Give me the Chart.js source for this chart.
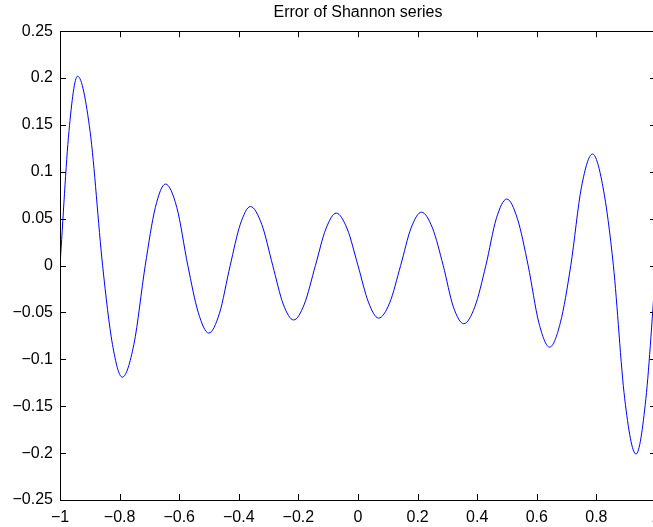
<!DOCTYPE html>
<html>
<head>
<meta charset="utf-8">
<script src="https://cdn.jsdelivr.net/npm/chart.js@4.4.1/dist/chart.umd.min.js"></script>
<style>
  html, body { margin: 0; padding: 0; overflow: hidden; background: #fff; }
  canvas { display: block; }
</style>
</head>
<body>
<canvas id="errChart" width="660" height="527"></canvas>
<script>
// sample positions and error values
const xVals = [
  -1, -0.97, -0.941, -0.899, -0.857, -0.824, -0.791, -0.752, -0.714, -0.68, -0.646, -0.608,
  -0.571, -0.536, -0.501, -0.465, -0.429, -0.395, -0.361, -0.323, -0.286, -0.251, -0.216, -0.18,
  -0.143, -0.108, -0.073, -0.036, 0, 0.035, 0.069, 0.106, 0.143, 0.178, 0.213, 0.25,
  0.286, 0.32, 0.355, 0.392, 0.429, 0.464, 0.499, 0.535, 0.571, 0.607, 0.643, 0.679,
  0.714, 0.75, 0.787, 0.822, 0.857, 0.895, 0.933, 0.966, 1
];
const errVals = [
  0, 0.143, 0.202, 0.143, 0, -0.084, -0.119, -0.084, 0, 0.062, 0.087, 0.062,
  0, -0.05, -0.072, -0.051, 0, 0.044, 0.063, 0.044, 0, -0.041, -0.058, -0.041,
  0, 0.039, 0.056, 0.039, 0, -0.039, -0.056, -0.04, 0, 0.04, 0.057, 0.04,
  0, -0.044, -0.062, -0.044, 0, 0.05, 0.071, 0.05, 0, -0.061, -0.087, -0.061,
  0, 0.084, 0.119, 0.084, 0, -0.142, -0.201, -0.142, 0
];
const xTicks = [-1, -0.8, -0.6, -0.4, -0.2, 0, 0.2, 0.4, 0.6, 0.8, 1];
const yTicks = [-0.25, -0.2, -0.15, -0.1, -0.05, 0, 0.05, 0.1, 0.15, 0.2, 0.25];

const FONT = "'Liberation Sans', Arial, Helvetica, sans-serif";

function fmt(v) {
  return String(Math.round(v * 100) / 100).replace("-", "\u2212");
}

// matlab style box with inward ticks on all four sides
const boxTicks = {
  id: "boxTicks",
  afterDatasetsDraw(chart) {
    const { ctx, chartArea: a, scales } = chart;
    const t = 6;
    ctx.save();
    ctx.strokeStyle = "#000";
    ctx.lineWidth = 1;
    ctx.beginPath();
    xTicks.forEach(v => {
      const px = Math.round(scales.x.getPixelForValue(v)) + 0.5;
      ctx.moveTo(px, a.bottom); ctx.lineTo(px, a.bottom - t);
      ctx.moveTo(px, a.top); ctx.lineTo(px, a.top + t);
    });
    yTicks.forEach(v => {
      const py = Math.round(scales.y.getPixelForValue(v)) + 0.5;
      ctx.moveTo(a.left, py); ctx.lineTo(a.left + t, py);
      ctx.moveTo(a.right, py); ctx.lineTo(a.right - t, py);
    });
    ctx.stroke();
    ctx.strokeRect(Math.round(a.left) + 0.5, Math.round(a.top) + 0.5,
      Math.round(a.right - a.left), Math.round(a.bottom - a.top));
    ctx.restore();
  }
};

new Chart(document.getElementById("errChart"), {
  type: "line",
  data: {
    datasets: [{
      data: xVals.map((x, i) => ({ x: x, y: errVals[i] })),
      borderColor: "#0000ff",
      borderWidth: 1,
      pointRadius: 0,
      fill: false,
      cubicInterpolationMode: "monotone"
    }]
  },
  options: {
    responsive: false,
    animation: false,
    devicePixelRatio: 1,
    layout: { padding: { right: 4 } },
    plugins: {
      legend: { display: false },
      tooltip: { enabled: false },
      title: {
        display: true,
        fullSize: false,
        text: "Error of Shannon series",
        color: "#000",
        font: { family: FONT, size: 16, weight: "normal" },
        padding: { top: 3, bottom: 9 }
      }
    },
    scales: {
      x: {
        type: "linear",
        min: -1, max: 1,
        afterBuildTicks: s => { s.ticks = xTicks.map(v => ({ value: v })); },
        afterFit: s => { s.height = 27; s.paddingLeft = 0; s.paddingRight = 0; },
        grid: { display: false, drawTicks: false },
        border: { display: false },
        ticks: {
          autoSkip: false, maxRotation: 0, padding: 8, color: "#000",
          font: { family: FONT, size: 16 },
          callback: v => fmt(v)
        }
      },
      y: {
        type: "linear",
        min: -0.25, max: 0.25,
        afterBuildTicks: s => { s.ticks = yTicks.map(v => ({ value: v })); },
        afterFit: s => { s.width = 60; s.paddingTop = 0; s.paddingBottom = 0; },
        grid: { display: false, drawTicks: false },
        border: { display: false },
        ticks: {
          autoSkip: false, padding: 7, color: "#000",
          font: { family: FONT, size: 16 },
          callback: v => fmt(v)
        }
      }
    }
  },
  plugins: [boxTicks]
});
</script>
</body>
</html>
